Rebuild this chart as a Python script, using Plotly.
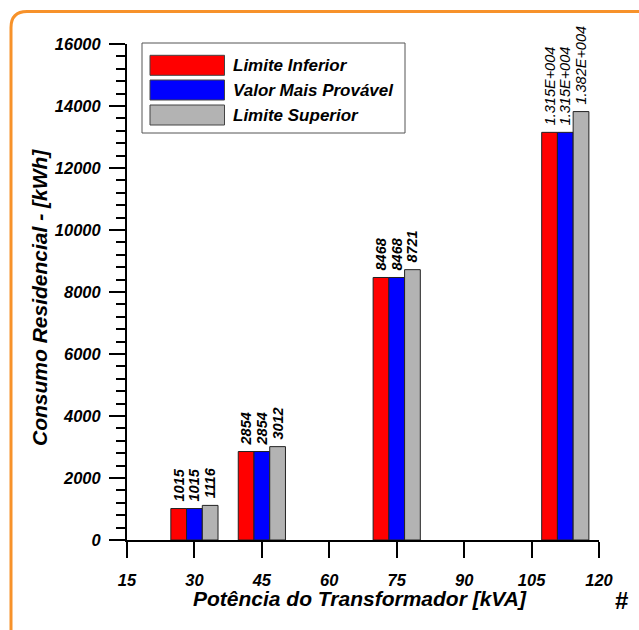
import plotly.graph_objects as go

# ---- data ----
potencia = [30, 45, 75, 112.5]
series_names = ["Limite Inferior", "Valor Mais Provável", "Limite Superior"]
limite_inferior = [1015, 2854, 8468, 13150]
valor_provavel = [1015, 2854, 8468, 13150]
limite_superior = [1116, 3012, 8721, 13820]
labels_inferior = ["1015", "2854", "8468", "1.315E+004"]
labels_provavel = ["1015", "2854", "8468", "1.315E+004"]
labels_superior = ["1116", "3012", "8721", "1.382E+004"]
x_ticks = [15, 30, 45, 60, 75, 90, 105, 120]
y_ticks = [0, 2000, 4000, 6000, 8000, 10000, 12000, 14000, 16000]

colors = ["#FF0000", "#0000FF", "#B3B3B3"]
FONT = "Liberation Sans, Arial, sans-serif"

W, H = 639, 630
L, R, T, B = 127, 40, 44, 90
pw, ph = W - L - R, H - T - B


def px(x):
    return (x - L) / pw


def py(y):
    return (H - B - y) / ph


def fmt(lbls):
    out = []
    for s in lbls:
        if "E" in s:
            out.append("\u00a0" + s)
        else:
            out.append("\u00a0<b>" + s + "</b>")
    return out


bar_w = 3.5
fig = go.Figure()
all_vals = [limite_inferior, valor_provavel, limite_superior]
all_lbls = [labels_inferior, labels_provavel, labels_superior]
for i, (name, vals, lbls) in enumerate(zip(series_names, all_vals, all_lbls)):
    fig.add_trace(go.Bar(
        x=potencia, y=vals, name=name,
        width=[bar_w] * len(potencia),
        offset=(i - 1.5) * bar_w,
        marker=dict(color=colors[i], line=dict(color="#222222", width=1)),
        text=fmt(lbls), textposition="outside", textangle=-90,
        textfont=dict(family=FONT, size=14.5, color="black", style="italic"),
        constraintext="none", cliponaxis=False, showlegend=False,
    ))

axis_font = dict(family=FONT, size=16.5, color="black", weight="bold", style="italic")
fig.update_layout(
    width=W, height=H,
    margin=dict(l=L, r=R, t=T, b=B),
    paper_bgcolor="white", plot_bgcolor="white",
    barmode="overlay",
    showlegend=False,
    xaxis=dict(range=[15, 120], tickvals=x_ticks, ticks="outside", ticklen=16,
               tickwidth=2, tickcolor="black", showline=True, linecolor="black",
               linewidth=2, showgrid=False, zeroline=False, tickfont=axis_font,
               ticklabelstandoff=8),
    yaxis=dict(range=[0, 16000], tickvals=y_ticks, tickformat="d", ticks="outside",
               ticklen=16, tickwidth=2, tickcolor="black", showline=True,
               linecolor="black", linewidth=2, showgrid=False, zeroline=False,
               tickfont=axis_font, ticklabelstandoff=5,
               minor=dict(dtick=400, ticks="outside", ticklen=9, tickwidth=2,
                          tickcolor="black", showgrid=False)),
)

title_font = dict(family=FONT, size=21, color="black", weight="bold", style="italic")
fig.add_annotation(text="Potência do Transformador [kVA]", xref="paper", yref="paper",
                   x=px(360), y=py(598), xanchor="center", yanchor="middle",
                   showarrow=False, font=title_font)
fig.add_annotation(text="Consumo Residencial - [kWh]", xref="paper", yref="paper",
                   x=px(39), y=py(298), xanchor="center", yanchor="middle",
                   textangle=-90, showarrow=False, font=title_font)
fig.add_annotation(text="#", xref="paper", yref="paper", x=px(621), y=py(600),
                   xanchor="center", yanchor="middle", showarrow=False,
                   font=dict(family=FONT, size=24, color="black", weight="bold"))

# legend drawn manually (large swatches)
fig.add_shape(type="rect", xref="paper", yref="paper", x0=px(142), x1=px(405),
              y0=py(133), y1=py(43), line=dict(color="#555555", width=1),
              fillcolor="white", layer="above")
row_centers = [65.3, 90, 115]
for name, col, yc in zip(series_names, colors, row_centers):
    fig.add_shape(type="rect", xref="paper", yref="paper", x0=px(150), x1=px(224.5),
                  y0=py(yc + 10), y1=py(yc - 10), fillcolor=col,
                  line=dict(color="#444444", width=1), layer="above")
    fig.add_annotation(text=name, xref="paper", yref="paper", x=px(231), y=py(yc),
                       xanchor="left", yanchor="middle", showarrow=False,
                       font=dict(family=FONT, size=17, color="black", weight="bold",
                                 style="italic"))

# orange frame with rounded top-left corner
x0, y0, r = px(11), py(11.5), 16
path = (f"M {x0},{py(700)} L {x0},{py(11.5 + r)} Q {x0},{y0} {px(11 + r)},{y0} "
        f"L {px(700)},{y0}")
fig.add_shape(type="path", xref="paper", yref="paper", path=path,
              line=dict(color="#F7922A", width=3), layer="above")

fig.write_html("out.html", config={"displayModeBar": False},
               post_script="document.body.style.margin='0';document.body.style.padding='0';")
